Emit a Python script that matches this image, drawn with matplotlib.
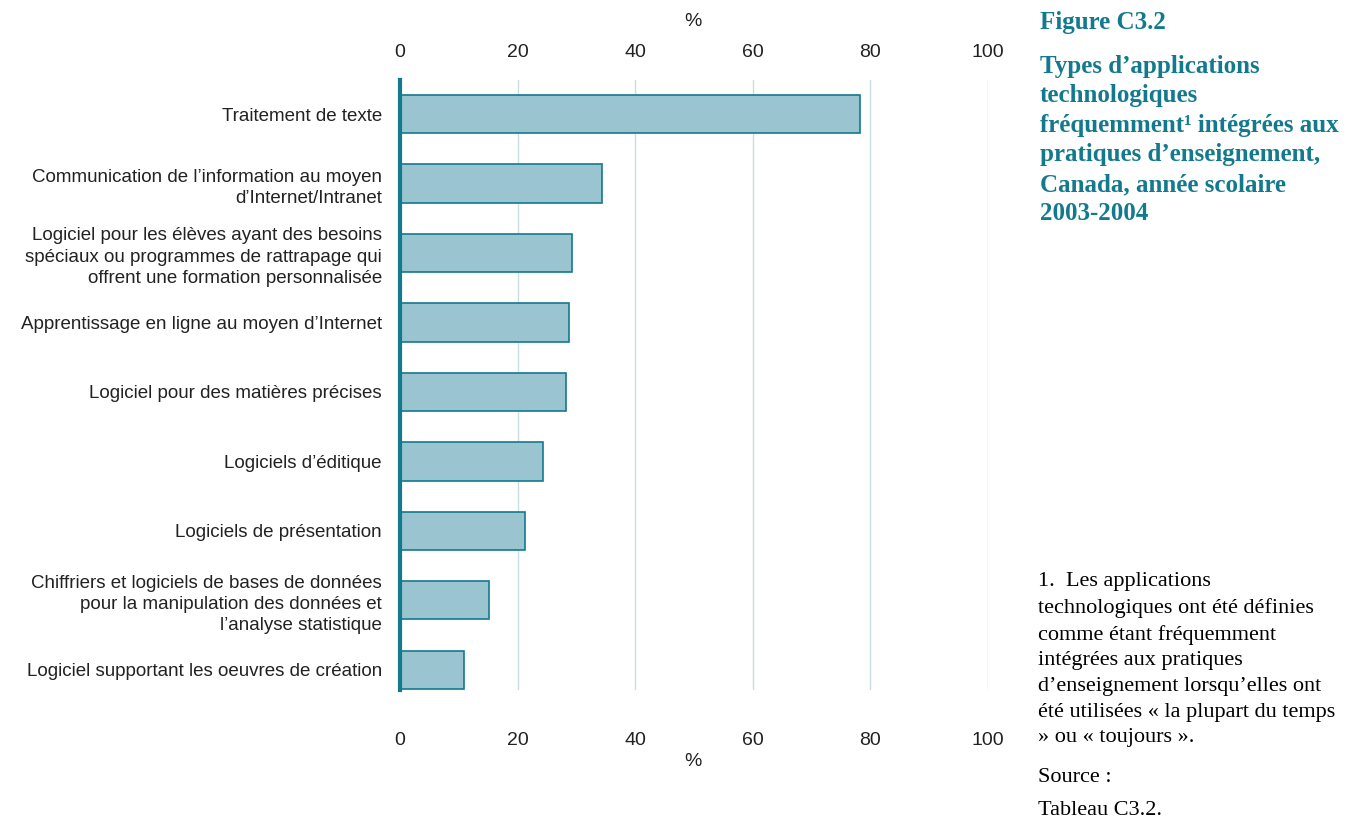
import matplotlib.pyplot as plt
from matplotlib.transforms import ScaledTranslation

# --- DATA ---
categories = [
    "Traitement de texte",
    "Communication de l\u2019information au moyen\nd\u2019Internet/Intranet",
    "Logiciel pour les \u00e9l\u00e8ves ayant des besoins\nsp\u00e9ciaux ou programmes de rattrapage qui\noffrent une formation personnalis\u00e9e",
    "Apprentissage en ligne au moyen d\u2019Internet",
    "Logiciel pour des mati\u00e8res pr\u00e9cises",
    "Logiciels d\u2019\u00e9ditique",
    "Logiciels de pr\u00e9sentation",
    "Chiffriers et logiciels de bases de donn\u00e9es\npour la manipulation des donn\u00e9es et\nl\u2019analyse statistique",
    "Logiciel supportant les oeuvres de cr\u00e9ation",
]
values = [78.2, 34.4, 29.3, 28.8, 28.3, 24.3, 21.3, 15.2, 10.9]
xticks = [0, 20, 40, 60, 80, 100]

teal = '#137a8e'
bar_fill = '#9ac5d0'
grid_col = '#c8dfe5'
txt = '#222222'

fig = plt.figure(figsize=(13.54, 8.19), dpi=100)
ax = fig.add_axes([400 / 1354, 1 - 690 / 819, 588 / 1354, 610 / 819])

pos = list(range(len(categories)))
ax.barh(pos, values, height=0.55, color=bar_fill, edgecolor=teal, linewidth=1.2, zorder=3)

ax.set_xlim(0, 100)
ax.set_ylim(len(categories) - 1 + 0.29, -0.49)

# x ticks on both sides, no tick marks
ax.set_xticks(xticks)
ax.set_xticklabels([str(t) for t in xticks], fontsize=14, family='Liberation Sans', color=txt)
ax.tick_params(axis='x', length=0, top=True, labeltop=True, labelbottom=True, pad=30)
for t in ax.xaxis.get_major_ticks():
    t.label2.set_fontsize(14)
    t.label2.set_family('Liberation Sans')
    t.label2.set_color(txt)
    t.label2.set_transform(ax.get_xaxis_transform() +
                           ScaledTranslation(0, 13.8 / 72, fig.dpi_scale_trans))

ax.set_yticks(pos)
ax.set_yticklabels(categories, fontsize=13.5, family='Liberation Sans', color=txt, linespacing=1.33)
ax.tick_params(axis='y', length=0, pad=13)

ax.grid(axis='x', color=grid_col, linewidth=1, zorder=0)
ax.set_axisbelow(True)
for s in ['top', 'right', 'bottom']:
    ax.spines[s].set_visible(False)
ax.spines['left'].set_color(teal)
ax.spines['left'].set_linewidth(3)
ax.spines['left'].set_zorder(4)

fig.text(693 / 1354, 1 - 22 / 819, '%', ha='center', va='center', fontsize=14, family='Liberation Sans', color=txt)
fig.text(693 / 1354, 1 - 762 / 819, '%', ha='center', va='center', fontsize=14, family='Liberation Sans', color=txt)

# title block
fig.text(1040 / 1354, 1 - 11 / 819, 'Figure C3.2', ha='left', va='top', fontsize=18,
         family='Liberation Serif', weight='bold', color=teal)
fig.text(1040 / 1354, 1 - 55 / 819,
         'Types d\u2019applications\ntechnologiques\nfr\u00e9quemment\u00b9 int\u00e9gr\u00e9es aux\n'
         'pratiques d\u2019enseignement,\nCanada, ann\u00e9e scolaire\n2003-2004',
         ha='left', va='top', fontsize=18, family='Liberation Serif', weight='bold', color=teal,
         linespacing=1.36)

# footnote
fig.text(1038 / 1354, 1 - 572 / 819,
         '1.  Les applications\ntechnologiques ont \u00e9t\u00e9 d\u00e9finies\ncomme \u00e9tant fr\u00e9quemment\n'
         'int\u00e9gr\u00e9es aux pratiques\nd\u2019enseignement lorsqu\u2019elles ont\n'
         '\u00e9t\u00e9 utilis\u00e9es \u00ab la plupart du temps\n\u00bb ou \u00ab toujours \u00bb.',
         ha='left', va='top', fontsize=16, family='Liberation Serif', color='#000000', linespacing=1.47)
fig.text(1038 / 1354, 1 - 768 / 819, 'Source :', ha='left', va='top', fontsize=16,
         family='Liberation Serif', color='#000000')
fig.text(1038 / 1354, 1 - 801 / 819, 'Tableau C3.2.', ha='left', va='top', fontsize=16,
         family='Liberation Serif', color='#000000')

fig.savefig('out.png', dpi=100)
